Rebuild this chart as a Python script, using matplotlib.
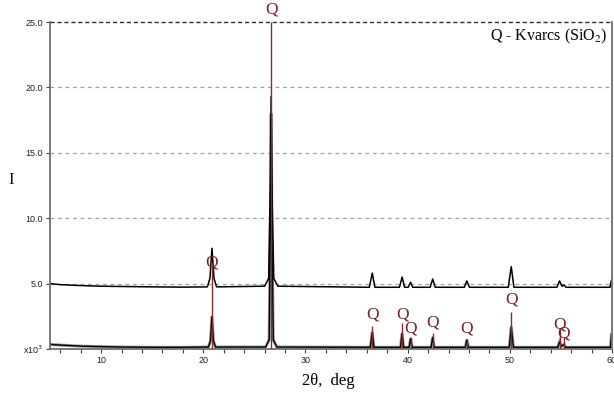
import matplotlib
matplotlib.use("Agg")
import matplotlib.pyplot as plt
from matplotlib.ticker import MultipleLocator

# Upper diffractogram (offset pattern)
upper_x = [5.0, 6.0, 8.0, 10.0, 12.0, 15.0, 18.0, 20.4, 20.65, 20.85, 21.05, 21.3,
           26.0, 26.4, 26.55, 26.64, 26.75, 26.9, 27.3,
           36.25, 36.54, 36.8, 39.2, 39.46, 39.7, 40.05, 40.29, 40.5,
           42.2, 42.45, 42.7, 45.55, 45.79, 46.05, 49.85, 50.14, 50.4,
           54.6, 54.87, 55.1, 55.3, 55.5, 59.8, 59.96, 60.0]
upper_y = [5.0, 4.92, 4.85, 4.8, 4.78, 4.75, 4.73, 4.75, 5.4, 7.7, 5.4, 4.75,
           4.8, 5.4, 12.0, 19.3, 11.0, 5.4, 4.8,
           4.72, 5.8, 4.72, 4.72, 5.5, 4.72, 4.72, 5.1, 4.72,
           4.72, 5.35, 4.72, 4.72, 5.2, 4.72, 4.72, 6.3, 4.72,
           4.72, 5.2, 4.8, 4.9, 4.72, 4.72, 5.3, 4.72]

# Lower diffractogram
lower_x = [5.0, 6.0, 8.0, 10.0, 12.0, 15.0, 18.0, 20.5, 20.7, 20.85, 21.0, 21.2,
           26.1, 26.45, 26.57, 26.64, 26.72, 26.85, 27.2,
           36.35, 36.54, 36.7, 39.3, 39.46, 39.6, 40.15, 40.29, 40.45,
           42.3, 42.45, 42.6, 45.65, 45.79, 45.95, 49.95, 50.14, 50.35,
           54.7, 54.87, 55.05, 55.3, 55.45, 59.85, 59.96, 60.0]
lower_y = [0.35, 0.3, 0.22, 0.18, 0.15, 0.13, 0.13, 0.15, 0.6, 2.5, 0.6, 0.15,
           0.15, 0.7, 10.0, 18.0, 9.0, 0.7, 0.15,
           0.13, 1.3, 0.13, 0.13, 1.2, 0.13, 0.13, 0.8, 0.13,
           0.13, 0.9, 0.13, 0.13, 0.7, 0.13, 0.13, 1.7, 0.13,
           0.13, 0.55, 0.2, 0.35, 0.13, 0.13, 1.2, 0.3]

# Reference quartz (Q) lines
ref_pos = [20.85, 26.64, 36.54, 39.46, 40.29, 42.45, 45.79, 50.14, 54.87, 55.3]
ref_height = [6.4, 25.0, 1.75, 2.0, 0.9, 1.25, 0.8, 2.8, 1.5, 0.9]
label_y = [6.6, 25.95, 2.6, 2.65, 1.6, 2.05, 1.6, 3.75, 1.9, 1.2]
label_text = "Q"

y_ticks = [0, 5, 10, 15, 20, 25]
y_ticklabels = ["x10$^{3}$", "5.0", "10.0", "15.0", "20.0", "25.0"]
x_ticks = [10, 20, 30, 40, 50, 60]

fig = plt.figure(figsize=(6.14, 3.94), dpi=100)
ax = fig.add_axes([50 / 614, 1 - 349 / 394, 562 / 614, 327 / 394])

ax.set_xlim(5, 60)
ax.set_ylim(0, 25)

for yv in [5, 10, 15, 20]:
    ax.axhline(yv, color="#a0a0a0", lw=0.9, ls=(0, (3, 3)), zorder=0)
ax.axhline(25, color="#303030", lw=1.0, ls=(0, (3, 2)), zorder=0, clip_on=False)

ref_color = "#8b2a2a"
ax.vlines(ref_pos, 0, ref_height, color=ref_color, lw=1.0, zorder=3)

ax.plot(lower_x, lower_y, color="#9a9a9a", lw=2.2, zorder=1, solid_joinstyle="miter")
ax.plot(lower_x, lower_y, color="black", lw=1.0, zorder=2)
ax.plot(upper_x, upper_y, color="black", lw=1.1, zorder=2)

for xp, yl in zip(ref_pos, label_y):
    ax.text(xp, yl, label_text, color="#7a2020", fontsize=12.5,
            family="Liberation Serif", ha="center", va="center", zorder=4, clip_on=False)

ax.text(0.993, 0.955, "Q - Kvarcs (SiO$_2$)", transform=ax.transAxes,
        ha="right", va="center", fontsize=11.5, family="Liberation Serif",
        math_fontfamily="stix", color="black")

for s in ["left", "right", "bottom"]:
    ax.spines[s].set_color("#707070")
    ax.spines[s].set_linewidth(1.3)
ax.spines["top"].set_visible(False)

ax.set_yticks(y_ticks)
ax.set_yticklabels(y_ticklabels)
ax.set_xticks(x_ticks)
ax.set_xticklabels([str(v) for v in x_ticks])
ax.xaxis.set_minor_locator(MultipleLocator(2))
ax.tick_params(axis="both", which="both", direction="out", length=3, width=0.8,
               colors="#404040", labelsize=6.5, labelcolor="#202020", pad=2)
for lab in ax.get_xticklabels() + ax.get_yticklabels():
    lab.set_family("Liberation Sans")

fig.text(328 / 614, 1 - 381 / 394, "2θ,  deg", family="Liberation Serif",
         fontsize=12, ha="center", va="center")
fig.text(11 / 614, 1 - 180 / 394, "I", family="Liberation Serif",
         fontsize=12, ha="center", va="center")

fig.savefig("out.png", dpi=100)
